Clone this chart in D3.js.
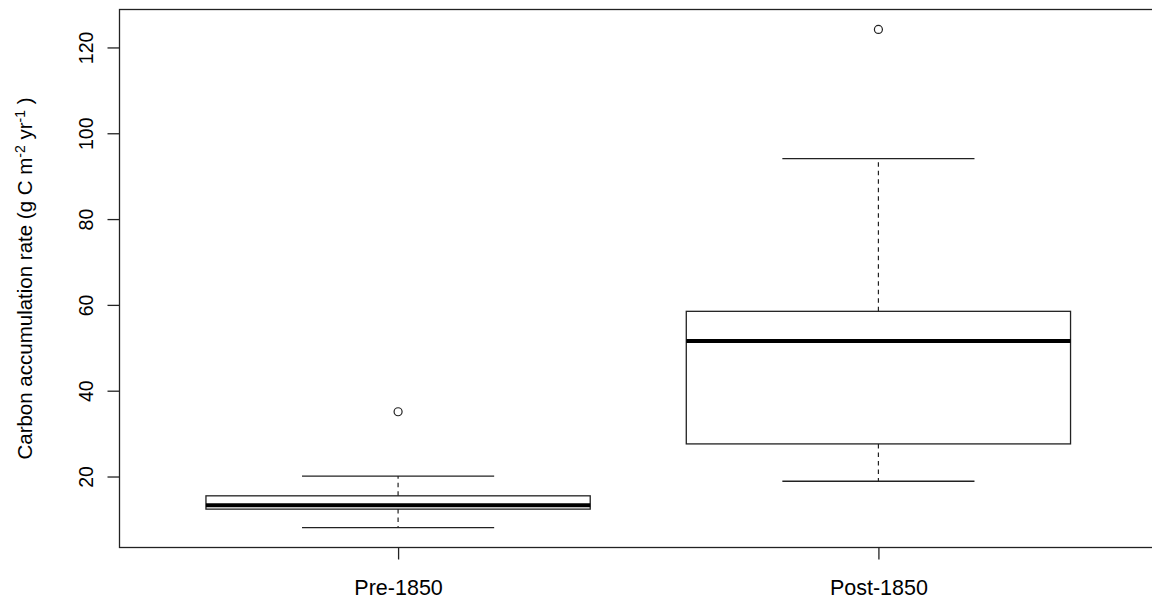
<!DOCTYPE html>
<html>
<head>
<meta charset="utf-8">
<script src="https://cdn.jsdelivr.net/npm/d3@7"></script>
<style>
  html, body { margin: 0; padding: 0; background: #fff; }
  svg { display: block; font-family: "Liberation Sans", Arial, sans-serif; }
</style>
</head>
<body>
<svg id="chart" width="1152" height="603"></svg>
<script>
// Five-number summaries per period (whisker ends, quartiles, median) plus outliers
const categories  = ["Pre-1850", "Post-1850"];
const whiskerLow  = [8.1, 18.9];
const q1          = [12.4, 27.6];
const median      = [13.3, 51.6];
const q3          = [15.5, 58.5];
const whiskerHigh = [20.1, 94.1];
const outliers    = [[35.1], [124.2]];
const yTicks      = [20, 40, 60, 80, 100, 120];

const plot = { left: 119.5, top: 9.5, right: 1157, bottom: 547.5 };

const svg = d3.select("#chart");

// y domain: data range padded by 4% on each side
const allVals = whiskerLow.concat(whiskerHigh, outliers.flat());
const lo = d3.min(allVals), hi = d3.max(allVals);
const pad = (hi - lo) * 0.04;
const y = d3.scaleLinear().domain([lo - pad, hi + pad]).range([plot.bottom, plot.top]);

// x: group positions 1..n on a range of [0.5, n+0.5] padded by 4%
const n = categories.length;
const xpad = n * 0.04;
const x = d3.scaleLinear().domain([0.5 - xpad, n + 0.5 + xpad]).range([plot.left, plot.right]);
const boxHalf = x(1.4) - x(1);
const capHalf = boxHalf / 2;

const stroke = "#222";

// Boxes
const groups = svg.append("g").selectAll("g")
  .data(categories.map((c, i) => ({ c, i, pos: i + 1 })))
  .join("g");

// dashed whiskers
groups.append("line")
  .attr("x1", d => x(d.pos)).attr("x2", d => x(d.pos))
  .attr("y1", d => y(q3[d.i])).attr("y2", d => y(whiskerHigh[d.i]))
  .attr("stroke", stroke).attr("stroke-width", 1.2).attr("stroke-dasharray", "4.5,4");
groups.append("line")
  .attr("x1", d => x(d.pos)).attr("x2", d => x(d.pos))
  .attr("y1", d => y(q1[d.i])).attr("y2", d => y(whiskerLow[d.i]))
  .attr("stroke", stroke).attr("stroke-width", 1.2).attr("stroke-dasharray", "4.5,4");

// whisker caps
groups.append("line")
  .attr("x1", d => x(d.pos) - capHalf).attr("x2", d => x(d.pos) + capHalf)
  .attr("y1", d => y(whiskerHigh[d.i])).attr("y2", d => y(whiskerHigh[d.i]))
  .attr("stroke", stroke).attr("stroke-width", 1.3);
groups.append("line")
  .attr("x1", d => x(d.pos) - capHalf).attr("x2", d => x(d.pos) + capHalf)
  .attr("y1", d => y(whiskerLow[d.i])).attr("y2", d => y(whiskerLow[d.i]))
  .attr("stroke", stroke).attr("stroke-width", 1.3);

// interquartile box
groups.append("rect")
  .attr("x", d => x(d.pos) - boxHalf)
  .attr("width", boxHalf * 2)
  .attr("y", d => y(q3[d.i]))
  .attr("height", d => y(q1[d.i]) - y(q3[d.i]))
  .attr("fill", "none").attr("stroke", stroke).attr("stroke-width", 1.3);

// median
groups.append("line")
  .attr("x1", d => x(d.pos) - boxHalf).attr("x2", d => x(d.pos) + boxHalf)
  .attr("y1", d => y(median[d.i])).attr("y2", d => y(median[d.i]))
  .attr("stroke", "#000").attr("stroke-width", 4);

// outliers
groups.selectAll("circle")
  .data(d => outliers[d.i].map(v => ({ v, pos: d.pos })))
  .join("circle")
  .attr("cx", d => x(d.pos)).attr("cy", d => y(d.v)).attr("r", 4)
  .attr("fill", "none").attr("stroke", stroke).attr("stroke-width", 1.2);

// Plot frame
svg.append("rect")
  .attr("x", plot.left).attr("y", plot.top)
  .attr("width", plot.right - plot.left).attr("height", plot.bottom - plot.top)
  .attr("fill", "none").attr("stroke", stroke).attr("stroke-width", 1.3);

// Y axis (ticks outside, labels rotated parallel to the axis)
const yAxis = d3.axisLeft(y).tickValues(yTicks).tickSize(12).tickPadding(0).tickFormat(d3.format("d"));
const gy = svg.append("g").attr("transform", `translate(${plot.left},0)`).call(yAxis);
gy.select(".domain").remove();
gy.selectAll(".tick line").attr("stroke", stroke).attr("stroke-width", 1.3);
gy.selectAll(".tick text")
  .attr("x", 0).attr("dy", null)
  .attr("transform", "translate(-34,0) rotate(-90)")
  .attr("text-anchor", "middle")
  .attr("y", 7)
  .attr("fill", "#000")
  .style("font-size", "19.5px")
  .style("font-family", "'Liberation Sans', Arial, sans-serif");

// X axis
const xAxis = d3.axisBottom(x).tickValues(categories.map((c, i) => i + 1))
  .tickSize(12).tickPadding(0).tickFormat((d, i) => categories[i]);
const gx = svg.append("g").attr("transform", `translate(0,${plot.bottom})`).call(xAxis);
gx.select(".domain").remove();
gx.selectAll(".tick line").attr("stroke", stroke).attr("stroke-width", 1.3);
gx.selectAll(".tick text")
  .attr("y", 47).attr("dy", null)
  .attr("fill", "#000")
  .style("font-size", "21.5px")
  .style("font-family", "'Liberation Sans', Arial, sans-serif");

// Y axis title with superscripts
const title = svg.append("text")
  .attr("transform", `translate(32,${(plot.top + plot.bottom) / 2}) rotate(-90)`)
  .attr("text-anchor", "middle")
  .attr("fill", "#000")
  .style("font-size", "20.5px");
title.append("tspan").text("Carbon accumulation rate (g C m");
title.append("tspan").attr("dy", -7).style("font-size", "14px").text("-2");
title.append("tspan").attr("dy", 7).text(" yr");
title.append("tspan").attr("dy", -7).style("font-size", "14px").text("-1");
title.append("tspan").attr("dy", 7).text(" )");
</script>
</body>
</html>
